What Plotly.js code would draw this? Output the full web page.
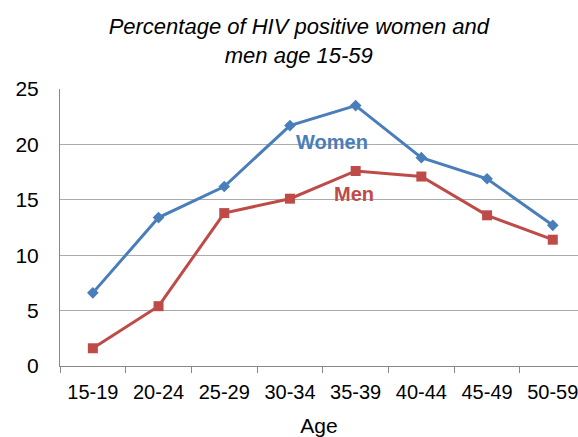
<!DOCTYPE html>
<html><head><meta charset="utf-8">
<script src="https://cdn.plot.ly/plotly-3.0.1.min.js"></script>
<style>html,body{margin:0;padding:0;background:#fff;}#c{width:578px;height:437px;}</style>
</head><body><div id="c"></div>
<script>
const ages = ["15-19","20-24","25-29","30-34","35-39","40-44","45-49","50-59"];
const women = [6.6, 13.4, 16.2, 21.7, 23.5, 18.8, 16.9, 12.7];
const men = [1.6, 5.4, 13.8, 15.1, 17.6, 17.1, 13.6, 11.4];
const seriesNames = ["Women", "Men"];
const FONT = "Liberation Sans, Arial, sans-serif";
const traces = [
  {x: ages, y: women, name: seriesNames[0], type: "scatter", mode: "lines+markers",
   line: {color: "#4A7EBB", width: 3}, marker: {symbol: "diamond", size: 9, color: "#4A7EBB"}},
  {x: ages, y: men, name: seriesNames[1], type: "scatter", mode: "lines+markers",
   line: {color: "#BE4B48", width: 3}, marker: {symbol: "square", size: 10, color: "#BE4B48"}}
];
const layout = {
  width: 578, height: 437,
  margin: {l: 60, r: 0, t: 89, b: 71},
  paper_bgcolor: "#fff", plot_bgcolor: "#fff",
  showlegend: false,
  font: {family: FONT, color: "#000"},
  title: {text: "Percentage of HIV positive women and<br>men age 15-59",
          font: {family: FONT, size: 22, style: "italic", color: "#000"},
          x: 0.461, xanchor: "center", xref: "paper", y: 0.922, yanchor: "top", yref: "container"},
  xaxis: {type: "category", range: [-0.5, 7.384], tickson: "boundaries",
          ticks: "outside", ticklen: 6, tickcolor: "#888", showline: true, linecolor: "#888", linewidth: 1,
          showgrid: false, zeroline: false, tickfont: {size: 20, family: FONT}, ticklabelstandoff: 8,
          title: {text: "Age", font: {size: 21, family: FONT}, standoff: 17}},
  yaxis: {range: [0, 25], dtick: 5, showline: true, linecolor: "#888", linewidth: 1,
          showgrid: true, gridcolor: "#ababab", gridwidth: 1, zeroline: false,
          ticks: "", tickfont: {size: 21, family: FONT}, ticklabelstandoff: 16},
  annotations: [
    {x: 3.64, y: 20.2, xref: "x", yref: "y", text: "<b>Women</b>", showarrow: false,
     font: {size: 20, color: "#4A7EBB", family: FONT}},
    {x: 3.97, y: 15.5, xref: "x", yref: "y", text: "<b>Men</b>", showarrow: false,
     font: {size: 20, color: "#BE4B48", family: FONT}}
  ]
};
Plotly.newPlot("c", traces, layout, {displayModeBar: false, staticPlot: true});
</script></body></html>
